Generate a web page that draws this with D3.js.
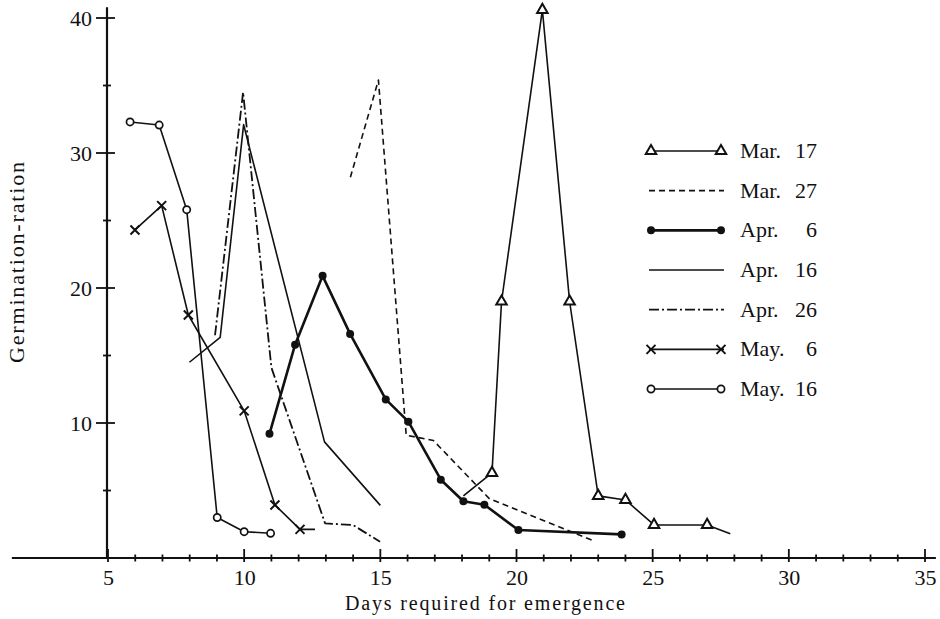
<!DOCTYPE html>
<html><head><meta charset="utf-8">
<script src="https://cdn.jsdelivr.net/npm/d3@7/dist/d3.min.js"></script>
<style>
body{margin:0;background:#fff}
svg{display:block;background:#fff}
text{font-family:"Liberation Serif","Times New Roman",serif;fill:#111}
</style>
</head><body>
<svg id="c" width="940" height="619"></svg>
<script>
// ---------- data ----------
const xTicks = [5, 10, 15, 20, 25, 30, 35];
const xMinorTicks = [6,7,8,9,11,12,13,14,16,17,18,19,21,22,23,24,26,27,28,29,31,32,33,34];
const yTicks = [10, 20, 30, 40];
const yMinorTicks = [5, 15, 25, 35];
const legendMonths = ["Mar.", "Mar.", "Apr.", "Apr.", "Apr.", "May.", "May."];
const legendDays = ["17", "27", "6", "16", "26", "6", "16"];
const xTitle = "Days required for emergence";
const yTitle = "Germination-ration";

const mar17 = [[18.05,4.6],[19.1,6.3],[19.45,19.0],[20.95,40.6],[21.95,19.0],[23.0,4.6],[24.0,4.3],[25.05,2.45],[27.0,2.45],[27.85,1.8]];
const mar27 = [[13.9,28.2],[14.93,35.4],[15.95,9.1],[16.95,8.7],[19.0,4.4],[22.8,1.3]];
const apr6  = [[10.93,9.2],[11.87,15.8],[12.88,20.9],[13.89,16.6],[15.2,11.75],[16.03,10.1],[17.22,5.8],[18.05,4.2],[18.82,3.95],[20.07,2.07],[23.86,1.75]];
const apr16 = [[7.99,14.5],[9.12,16.35],[9.98,32.1],[12.95,8.6],[15.0,3.9]];
const apr26 = [[8.93,16.5],[9.96,34.5],[11.0,14.1],[12.97,2.57],[14.0,2.44],[14.99,1.2]];
const may6  = [[5.99,24.3],[6.97,26.1],[7.95,18.0],[10.0,10.9],[11.13,3.93],[12.05,2.12],[12.6,2.12]];
const may16 = [[5.81,32.3],[6.88,32.07],[7.89,25.8],[9.01,3.0],[10.0,1.95],[10.97,1.83]];

// ---------- styles ----------
const series = [
  {data: mar17, marker: "tri",    dash: null,        w: 1.6, bareStart: true,  bareEnd: true},
  {data: mar27, marker: null,     dash: "6,4",       w: 1.6},
  {data: apr6,  marker: "dot",    dash: null,        w: 2.6},
  {data: apr16, marker: null,     dash: null,        w: 1.6},
  {data: apr26, marker: null,     dash: "10,3,2,3",  w: 1.8},
  {data: may6,  marker: "x",      dash: null,        w: 1.6, bareEnd: true},
  {data: may16, marker: "circle", dash: null,        w: 1.6}
];

const svg = d3.select("#c");
const x = d3.scaleLinear().domain([5, 35]).range([108, 925]);
const y = d3.scaleLinear().domain([0, 40]).range([558, 18]);
const ink = "#111";

// ---------- axes ----------
const x0 = 107, y0 = y(0);
svg.append("line").attr("x1", x(1.47)).attr("x2", x(35.4)).attr("y1", y0).attr("y2", y0)
  .attr("stroke", ink).attr("stroke-width", 2.2);
svg.append("line").attr("x1", x0).attr("x2", x0).attr("y1", y0).attr("y2", y(40.8))
  .attr("stroke", ink).attr("stroke-width", 2.2);

// x tick labels via d3 axis (lines drawn separately)
const xAxis = svg.append("g").attr("transform", `translate(0,${y0})`)
  .call(d3.axisBottom(x).tickValues(xTicks).tickSize(0).tickFormat(d3.format("d")));
xAxis.select(".domain").remove();
xAxis.selectAll(".tick text").attr("y", 27).attr("dy", null)
  .style("font-size", "22px").style("font-family", "Liberation Serif").attr("fill", ink);

const yAxis = svg.append("g").attr("transform", `translate(${x0},0)`)
  .call(d3.axisLeft(y).tickValues(yTicks).tickSize(0).tickPadding(15).tickFormat(d3.format("d")));
yAxis.select(".domain").remove();
yAxis.selectAll(".tick text").style("font-size", "22px").style("font-family", "Liberation Serif").attr("fill", ink);

// tick marks
const tk = svg.append("g").attr("stroke", ink).attr("stroke-width", 1.8);
tk.selectAll("line.xM").data(xTicks).join("line").attr("class", "xM")
  .attr("x1", d => x(d)).attr("x2", d => x(d)).attr("y1", y0 - 9).attr("y2", y0 + 4);
tk.selectAll("line.xm").data(xMinorTicks).join("line").attr("class", "xm")
  .attr("x1", d => x(d)).attr("x2", d => x(d)).attr("y1", y0 - 3.5).attr("y2", y0 + 3.5);
tk.selectAll("line.yM").data(yTicks).join("line").attr("class", "yM")
  .attr("x1", x0 - 11).attr("x2", x0 + 8).attr("y1", d => y(d)).attr("y2", d => y(d));
tk.selectAll("line.ym").data(yMinorTicks).join("line").attr("class", "ym")
  .attr("x1", x0 - 4).attr("x2", x0 + 4).attr("y1", d => y(d)).attr("y2", d => y(d));

// titles
svg.append("text").attr("x", 345).attr("y", 610).attr("textLength", 280).attr("lengthAdjust", "spacing")
  .style("font-size", "20px").text(xTitle);
svg.append("text").attr("transform", "translate(24,363) rotate(-90)").attr("textLength", 201).attr("lengthAdjust", "spacing")
  .style("font-size", "22px").text(yTitle);

// ---------- lines ----------
const line = d3.line().x(d => x(d[0])).y(d => y(d[1]));
const plot = svg.append("g");
series.forEach(s => {
  plot.append("path").attr("d", line(s.data)).attr("fill", "none").attr("stroke", ink)
    .attr("stroke-width", s.w).attr("stroke-dasharray", s.dash).attr("stroke-linejoin", "round");
});

function drawMarker(g, type, cx, cy) {
  if (type === "tri") {
    g.append("path").attr("d", d3.symbol(d3.symbolTriangle, 48)()).attr("transform", `translate(${cx},${cy})`)
      .attr("fill", "#fff").attr("stroke", ink).attr("stroke-width", 2);
  } else if (type === "dot") {
    g.append("circle").attr("cx", cx).attr("cy", cy).attr("r", 4).attr("fill", ink);
  } else if (type === "circle") {
    g.append("circle").attr("cx", cx).attr("cy", cy).attr("r", 3.6).attr("fill", "#fff").attr("stroke", ink).attr("stroke-width", 1.7);
  } else if (type === "x") {
    g.append("path").attr("d", `M${cx-4.5},${cy-4.5}L${cx+4.5},${cy+4.5}M${cx-4.5},${cy+4.5}L${cx+4.5},${cy-4.5}`)
      .attr("stroke", ink).attr("stroke-width", 2);
  }
}
series.forEach(s => {
  if (!s.marker) return;
  s.data.forEach((d, i) => {
    if (i === 0 && s.bareStart) return;
    if (i === s.data.length - 1 && s.bareEnd) return;
    drawMarker(plot, s.marker, x(d[0]), y(d[1]));
  });
});

// ---------- legend ----------
const ly = d3.scalePoint().domain(d3.range(legendDays.length)).range([151, 389]);
const lg = svg.append("g");
series.forEach((s, i) => {
  const yy = ly(i);
  lg.append("line").attr("x1", 649).attr("x2", 724).attr("y1", yy).attr("y2", yy)
    .attr("stroke", ink).attr("stroke-width", s.w).attr("stroke-dasharray", s.dash);
  if (s.marker) { drawMarker(lg, s.marker, 651, yy); drawMarker(lg, s.marker, 721, yy); }
  lg.append("text").attr("x", 740).attr("y", yy + 7).style("font-size", "22px").text(legendMonths[i]);
  lg.append("text").attr("x", 817).attr("y", yy + 7).attr("text-anchor", "end").style("font-size", "22px").text(legendDays[i]);
});
</script>
</body></html>
